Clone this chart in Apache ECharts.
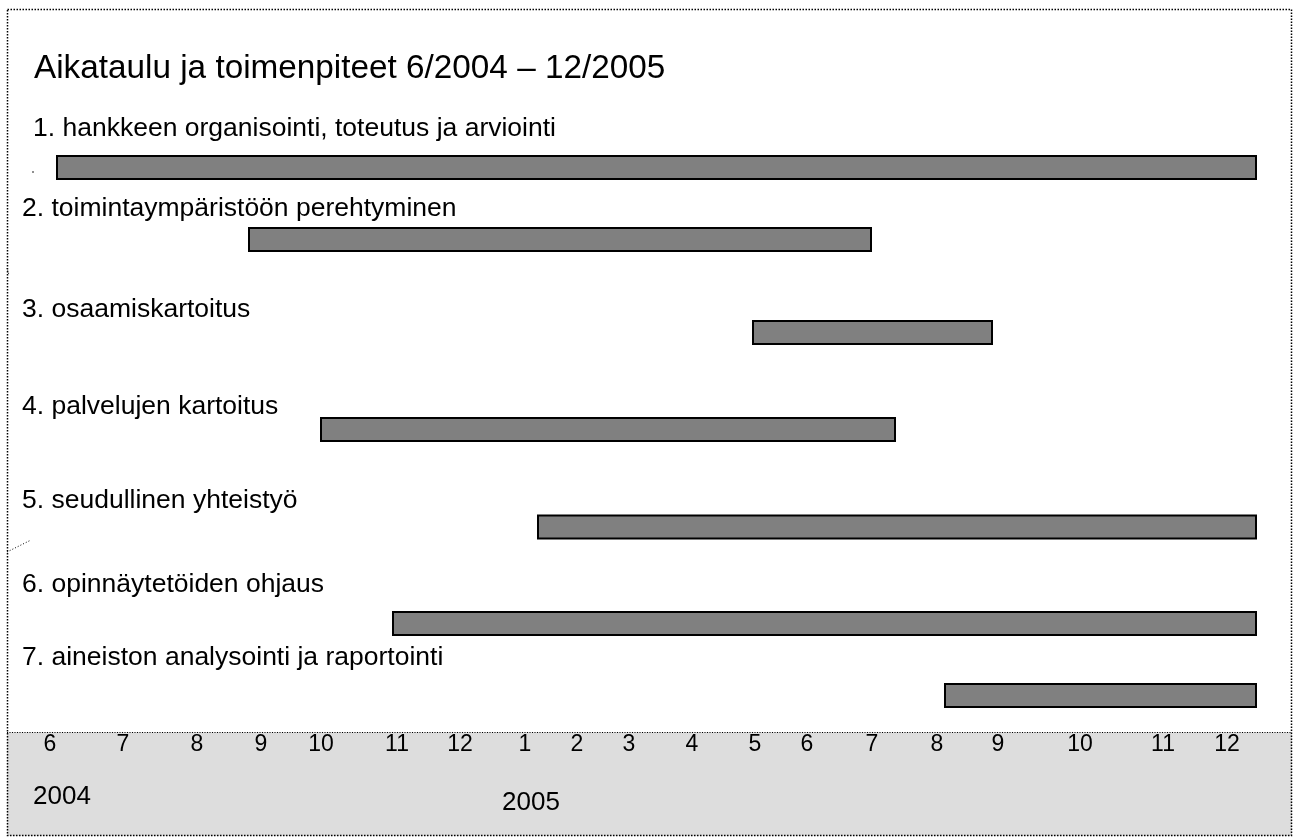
<!DOCTYPE html>
<html>
<head>
<meta charset="utf-8">
<script src="https://cdn.jsdelivr.net/npm/echarts@6/dist/echarts.min.js"></script>
<style>
html,body{margin:0;padding:0;background:#fff;}
#chart{width:1296px;height:840px;}
</style>
</head>
<body>
<div id="chart"></div>
<script>
// ---- data (timeline units on a 0..1296 scale, rows on a 0..840 scale) ----
const titleText = 'Aikataulu ja toimenpiteet 6/2004 – 12/2005';
const taskNames = [
  '1. hankkeen organisointi, toteutus ja arviointi',
  '2. toimintaympäristöön perehtyminen',
  '3. osaamiskartoitus',
  '4. palvelujen kartoitus',
  '5. seudullinen yhteistyö',
  '6. opinnäytetöiden ohjaus',
  '7. aineiston analysointi ja raportointi'
];
const taskStart = [56, 248, 752, 320, 537, 392, 944];
const taskEnd   = [1257, 872, 993, 896, 1257, 1257, 1257];
const taskRow   = [167.5, 239.5, 332.5, 429.5, 527, 623.5, 695.5];
const labelX    = [33, 22, 22, 22, 22, 22, 22];
const labelRow  = [129, 209, 310, 407, 501, 585, 658];
const monthLabels = ['6','7','8','9','10','11','12','1','2','3','4','5','6','7','8','9','10','11','12'];
const monthPos    = [50,123,197,261,321,397,460,525,577,629,692,755,807,872,937,998,1080,1163,1227];
const monthRow    = 745;
const yearLabels = ['2004','2005'];
const yearPos    = [62, 531];
const yearRow    = [797, 803];

const chart = echarts.init(document.getElementById('chart'), null, {renderer:'canvas'});
const FONT = '"Liberation Sans", Arial, sans-serif';

function textSeries(points, size) {
  return {
    type: 'custom',
    coordinateSystem: 'cartesian2d',
    silent: true,
    z: 5,
    data: points,
    renderItem: function (params, api) {
      const p = api.coord([api.value(0), api.value(1)]);
      const d = points[params.dataIndex];
      return {
        type: 'text',
        x: p[0], y: p[1],
        style: {
          text: d[2],
          fontFamily: FONT,
          fontSize: size,
          fill: '#000',
          align: d[3],
          verticalAlign: 'middle'
        }
      };
    }
  };
}

const barData = taskStart.map((s, i) => [s, taskEnd[i], taskRow[i]]);
const labelData = taskNames.map((n, i) => [labelX[i], labelRow[i], n, 'left']);
const monthData = monthLabels.map((m, i) => [monthPos[i], monthRow, m, 'center']);
const yearData = yearLabels.map((y, i) => [yearPos[i], yearRow[i], y, 'center']);

const option = {
  animation: false,
  backgroundColor: '#ffffff',
  title: {
    text: titleText,
    left: 29, top: 47,
    textStyle: {fontFamily: FONT, fontSize: 33.3, fontWeight: 'normal', color: '#000'}
  },
  grid: {left: 0, right: 0, top: 0, bottom: 0},
  xAxis: {type: 'value', min: 0, max: 1296, show: false},
  yAxis: {type: 'value', min: 0, max: 840, inverse: true, show: false},
  graphic: [
    {type: 'rect', z: -10, shape: {x: 7, y: 732, width: 1285, height: 104},
     style: {fill: '#dddddd'}},
    {type: 'line', z: 10, shape: {x1: 7, y1: 732.5, x2: 1292, y2: 732.5},
     style: {stroke: '#000', lineWidth: 1, lineDash: [1, 1.5]}},
    {type: 'rect', z: 10, shape: {x: 7.5, y: 9.5, width: 1284, height: 826},
     style: {fill: 'none', stroke: '#000', lineWidth: 1.5, lineDash: [1.5, 1.5]}},
    {type: 'line', z: 10, shape: {x1: 7, y1: 552, x2: 31, y2: 540},
     style: {stroke: '#000', lineWidth: 1, lineDash: [1, 2]}},
    {type: 'line', z: 10, shape: {x1: 7, y1: 268, x2: 9, y2: 275},
     style: {stroke: '#000', lineWidth: 1, lineDash: [1, 1.5]}},
    {type: 'circle', z: 10, shape: {cx: 33, cy: 172, r: 0.8}, style: {fill: '#000'}}
  ],
  series: [
    {
      type: 'custom',
      coordinateSystem: 'cartesian2d',
      silent: true,
      z: 3,
      data: barData,
      renderItem: function (params, api) {
        const a = api.coord([api.value(0), api.value(2)]);
        const b = api.coord([api.value(1), api.value(2)]);
        const h = api.size([0, 23])[1];
        return {
          type: 'rect',
          shape: {x: a[0] + 1, y: a[1] - h / 2, width: b[0] - a[0] - 2, height: h},
          style: {fill: '#808080', stroke: '#000', lineWidth: 2}
        };
      }
    },
    textSeries(labelData, 26.5),
    textSeries(monthData, 23),
    textSeries(yearData, 26)
  ]
};
chart.setOption(option);
</script>
</body>
</html>
